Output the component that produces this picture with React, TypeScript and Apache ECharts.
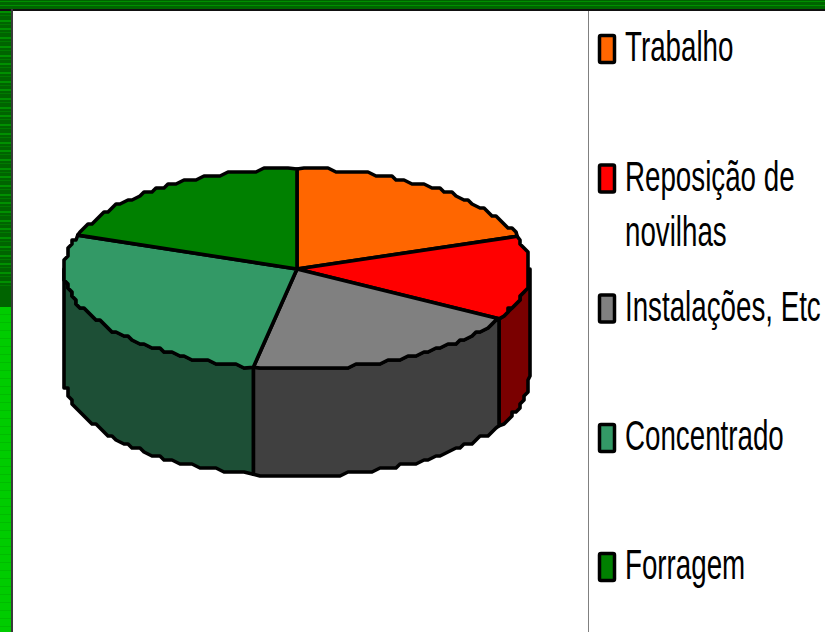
import React, { useEffect, useRef } from "react";
import * as echarts from "echarts";

const categories = ["Trabalho", "Reposição de\nnovilhas", "Instalações, Etc", "Concentrado", "Forragem"];
const values = [19.7, 13.6, 19.7, 27.5, 19.5];
const topColors = ["#ff6600", "#ff0000", "#808080", "#339966", "#008000"];
const sideColors = ["#803300", "#7a0000", "#404040", "#1d4f36", "#004000"];

const CX = 297, CY = 269, RX = 233, RY = 100, DEPTH = 107, SNAP = 4;

const exact = (deg: number, dy = 0): number[] => {
  const t = (deg * Math.PI) / 180;
  return [CX + RX * Math.sin(t), CY - RY * Math.cos(t) + dy];
};

const arc = (a: number, b: number, dy = 0): number[][] => {
  const out: number[][] = [exact(a, dy)];
  const n = Math.max(1, Math.ceil(Math.abs(b - a) / 2));
  for (let i = 1; i < n; i++) {
    const e = exact(a + ((b - a) * i) / n, dy);
    const p = [Math.round(e[0] / SNAP) * SNAP, Math.round(e[1] / SNAP) * SNAP];
    const last = out[out.length - 1];
    if (last[0] !== p[0] || last[1] !== p[1]) out.push(p);
  }
  out.push(exact(b, dy));
  return out;
};

const edge = { stroke: "#000", lineWidth: 3.6, lineJoin: "round" as const };

const renderSlice = (params: any, api: any) => {
  const i = params.dataIndex;
  const total = values.reduce((s, v) => s + v, 0);
  const before = values.slice(0, i).reduce((s, v) => s + v, 0);
  const a0 = (before / total) * 360;
  const a1 = a0 + (api.value(0) / total) * 360;
  const children: any[] = [];
  const s0 = Math.max(a0, 90), s1 = Math.min(a1, 270);
  if (s1 > s0) {
    children.push({
      type: "polygon",
      shape: { points: [...arc(s0, s1), ...arc(s1, s0, DEPTH)] },
      style: { fill: sideColors[i], ...edge },
    });
  }
  children.push({
    type: "polygon",
    shape: { points: [[CX, CY], ...arc(a0, a1)] },
    style: { fill: topColors[i], ...edge },
  });
  return { type: "group", children };
};

const stripes = (x: number, w: number, y0: number, y1: number, period: number, h: number, fill: string) => {
  const out: any[] = [];
  for (let y = y0; y < y1; y += period) {
    out.push({ type: "rect", silent: true, shape: { x, y: Math.round(y), width: w, height: h }, style: { fill } });
  }
  return out;
};

const frame = (): any[] => [
  { type: "rect", shape: { x: 0, y: 0, width: 825, height: 9 }, style: { fill: "#006400" } },
  ...stripes(0, 825, 1, 9, 4, 1, "#009000"),
  { type: "rect", shape: { x: 0, y: 9, width: 11, height: 298 }, style: { fill: "#006400" } },
  ...stripes(0, 11, 11, 288, 8.7, 2, "#009000"),
  ...stripes(0, 11, 15, 288, 8.7, 1, "#007a00"),
  { type: "rect", shape: { x: 0, y: 307, width: 11, height: 325 }, style: { fill: "#00cc00" } },
  ...stripes(0, 11, 314, 632, 8, 1, "#00bc00"),
  { type: "rect", shape: { x: 0, y: 9, width: 825, height: 2 }, style: { fill: "#111" } },
  { type: "rect", shape: { x: 11, y: 9, width: 2, height: 623 }, style: { fill: "#3a3a3a" } },
  { type: "rect", shape: { x: 588, y: 11, width: 1, height: 621 }, style: { fill: "#808080" } },
];

const LEGEND_Y = [49, 178.5, 308.5, 438, 567];

const legend = (): any[] =>
  categories.flatMap((name, i) => [
    {
      type: "rect",
      shape: { x: 599.5, y: LEGEND_Y[i] - 13.5, width: 15, height: 27, r: 1.5 },
      style: { fill: topColors[i], stroke: "#000", lineWidth: 3.5 },
    },
    {
      type: "text",
      x: 625,
      y: LEGEND_Y[i] - 30,
      scaleX: 0.645,
      style: {
        text: name,
        fill: "#000",
        font: '43px "Liberation Sans", Arial, sans-serif',
        lineHeight: 55,
        textVerticalAlign: "top",
      },
    },
  ]);

export default function App() {
  const ref = useRef<HTMLDivElement>(null);
  useEffect(() => {
    document.body.style.margin = "0";
    const chart = echarts.init(ref.current!, undefined, { renderer: "svg" });
    chart.setOption({
      animation: false,
      backgroundColor: "#fff",
      graphic: { elements: [...frame(), ...legend()] },
      series: [
        {
          type: "custom",
          coordinateSystem: "none",
          renderItem: renderSlice,
          data: categories.map((name, i) => ({ name, value: values[i] })),
        },
      ],
    });
    return () => chart.dispose();
  }, []);
  return <div ref={ref} style={{ width: 825, height: 632 }} />;
}
